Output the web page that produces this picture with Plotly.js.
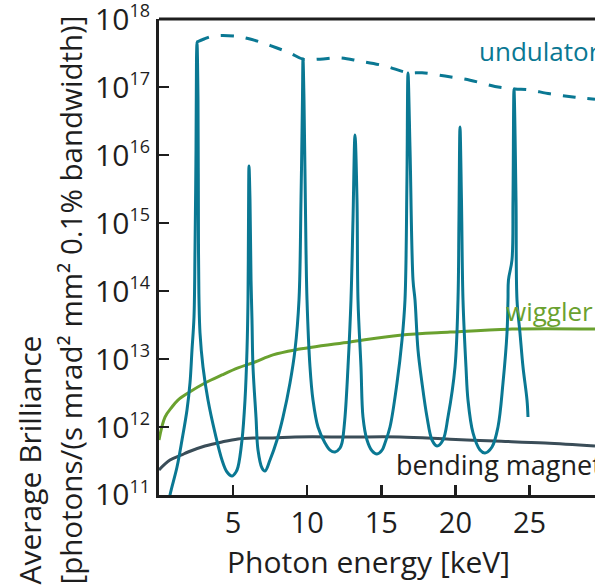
<!DOCTYPE html>
<html>
<head>
<meta charset="utf-8">
<script src="https://cdn.plot.ly/plotly-3.0.1.min.js"></script>
<style>html,body{margin:0;padding:0;background:#fff;}#chart{width:595px;height:588px;}</style>
</head>
<body>
<div id="chart"></div>
<script>
// Photon energy [keV] and average brilliance values
const undulatorX = [0.6,0.742,1.215,1.552,1.889,2.092,2.227,2.362,2.429,2.497,2.53,2.564,2.632,2.665,2.699,2.767,2.969,3.306,3.779,4.251,4.589,4.926,5.196,5.331,5.601,5.803,5.938,6.005,6.04,6.073,6.14,6.21,6.275,6.343,6.545,6.68,6.95,7.152,7.49,7.962,8.367,8.839,9.177,9.447,9.582,9.68,9.717,9.784,9.92,9.987,10.189,10.391,10.729,11.201,11.54,11.876,12.21,12.348,12.551,12.753,12.955,13.09,13.225,13.36,13.428,13.63,13.765,14.035,14.37,14.71,15.05,15.25,15.587,16.059,16.397,16.599,16.73,16.802,16.94,17.14,17.274,17.476,17.746,18.084,18.421,18.758,19.163,19.5,19.973,20.175,20.24,20.31,20.41,20.513,20.715,20.85,21.188,21.66,21.997,22.47,22.874,23.212,23.482,23.549,23.58,23.819,23.887,23.954,24.09,24.157,24.359,24.562,24.832,24.899];
const undulatorY = [6.3e10,1.0e11,2.58e11,6.44e11,1.78e12,4.44e12,1.36e13,4.15e13,4.01e14,1.19e16,2.51e17,4.59e17,6.44e16,3.98e14,7.38e13,2.41e13,7.62e12,2.49e12,8.17e11,3.27e11,2.18e11,1.90e11,2.18e11,2.58e11,6.44e11,2.49e12,1.36e13,7.38e13,1.10e15,6.89e15,2.19e15,1.45e14,3.75e13,7.62e12,1.40e12,4.59e11,2.49e11,2.25e11,3.27e11,6.44e11,1.40e12,4.44e12,1.36e13,7.38e13,2.19e15,6.46e16,2.58e17,6.46e16,3.98e14,7.38e13,7.62e12,2.49e12,1.0e12,5.82e11,4.57e11,4.29e11,4.9e11,5.82e11,1.40e12,7.62e12,7.38e13,1.10e15,1.97e16,2.19e15,7.38e13,7.62e12,1.40e12,6.44e11,4.47e11,4.01e11,4.57e11,5.82e11,1.0e12,4.44e12,1.90e13,7.38e13,4.27e15,1.61e17,1.17e16,1.45e14,7.38e13,1.36e13,4.44e12,1.40e12,6.44e11,5.26e11,6.44e11,1.40e12,7.62e12,7.38e13,1.10e15,2.58e16,2.19e15,7.38e13,7.62e12,2.49e12,8.17e11,4.59e11,4.15e11,5.08e11,1.0e12,4.44e12,2.41e13,7.38e13,1.45e14,2.86e14,2.19e15,9.35e16,2.19e15,7.38e13,2.41e13,7.62e12,2.49e12,1.40e12];

const envelopeX = [2.56,3.04,3.64,5.13,6.14,7.02,7.96,8.84,9.72,10.86,12.21,13.56,15.25,16.80,17.75,19.30,20.99,22.67,24.02,24.90,26.38,28.07,29.42];
const envelopeY = [4.59e17,5.08e17,5.62e17,5.62e17,5.08e17,4.44e17,3.75e17,3.16e17,2.57e17,2.57e17,2.69e17,2.40e17,2.04e17,1.62e17,1.62e17,1.45e17,1.26e17,1.02e17,9.33e16,9.12e16,7.94e16,7.08e16,6.61e16];

const wigglerX = [0,0.405,0.877,1.28,1.96,3.10,4.25,5.33,6.48,7.69,9.18,12.89,16.26,19.64,23.82,29.42];
const wigglerY = [6.46e11,1.40e12,1.97e12,2.49e12,3.16e12,4.44e12,5.82e12,7.38e12,9.04e12,1.15e13,1.36e13,1.78e13,2.24e13,2.49e13,2.75e13,2.75e13];

const bendingX = [0,0.74,1.53,1.96,3.10,4.25,5.33,6.48,7.69,9.18,12.89,16.26,19.64,22.67,26.05,29.42];
const bendingY = [2.34e11,3.27e11,3.89e11,4.29e11,5.25e11,6.03e11,6.67e11,6.89e11,6.9e11,7.13e11,7.13e11,7.13e11,6.61e11,6.22e11,5.82e11,5.25e11];

const xTickVals = [5,10,15,20,25];
const yTickVals = [1e11,1e12,1e13,1e14,1e15,1e16,1e17,1e18];
const yTickExp = ['11','12','13','14','15','16','17','18'];

const seriesLabels = ['undulator','wiggler','bending magnet'];
const xTitle = 'Photon energy [keV]';
const yTitle1 = 'Average Brilliance';
const yTitle2 = '[photons/(s mrad² mm² 0.1% bandwidth)]';

const TEAL = '#0a7893', GREEN = '#6aa12f', SLATE = '#3a4d58', INK = '#1e1e1e';
const FONT = 'Open Sans, sans-serif';

// plot area in pixels
const L = 159, T = 19, B = 495, R = 595;
const px = p => (p - L) / (R - L);
const py = p => (B - p) / (B - T);

const traces = [
  {x: bendingX, y: bendingY, mode: 'lines', line: {color: SLATE, width: 3, shape: 'spline', smoothing: 1}, hoverinfo: 'skip'},
  {x: wigglerX, y: wigglerY, mode: 'lines', line: {color: GREEN, width: 3, shape: 'spline', smoothing: 1}, hoverinfo: 'skip'},
  {x: undulatorX, y: undulatorY, mode: 'lines', line: {color: TEAL, width: 3, shape: 'spline', smoothing: 1}, hoverinfo: 'skip'},
  {x: envelopeX, y: envelopeY, mode: 'lines', line: {color: TEAL, width: 3, dash: '13px,12px', shape: 'spline', smoothing: 1}, hoverinfo: 'skip'}
];

const layout = {
  width: 595, height: 588,
  margin: {l: L, r: 0, t: T, b: 588 - B, pad: 0},
  paper_bgcolor: '#fff', plot_bgcolor: '#fff',
  showlegend: false,
  font: {family: FONT, color: INK, size: 29},
  xaxis: {
    range: [0, 29.42], showgrid: false, zeroline: false,
    showline: true, linecolor: INK, linewidth: 3,
    ticks: 'inside', ticklen: 10, tickwidth: 2.5, tickcolor: INK,
    tickvals: xTickVals, ticktext: xTickVals.map(String),
    tickfont: {family: FONT, size: 29, color: INK}
  },
  yaxis: {
    type: 'log', range: [10.9999, 18.0001], showgrid: false, zeroline: false,
    showline: true, linecolor: INK, linewidth: 3,
    ticks: 'inside', ticklen: 10, tickwidth: 2.5, tickcolor: INK,
    ticklabeloverflow: 'allow',
    tickvals: yTickVals,
    ticktext: yTickExp.map(e => '10<sup><span style="font-size:18px">' + e + '</span></sup>'),
    tickfont: {family: FONT, size: 30, color: INK}
  },
  shapes: [
    {type: 'line', xref: 'paper', yref: 'paper', x0: 0, x1: 1, y0: 1, y1: 1, line: {color: INK, width: 3}}
  ],
  annotations: [
    {xref: 'paper', yref: 'paper', x: px(477), y: py(51), xanchor: 'left', yanchor: 'middle', showarrow: false,
     text: seriesLabels[0], font: {family: FONT, size: 26, color: TEAL}},
    {xref: 'paper', yref: 'paper', x: px(504), y: py(311), xanchor: 'left', yanchor: 'middle', showarrow: false,
     text: seriesLabels[1], font: {family: FONT, size: 26, color: GREEN}},
    {xref: 'paper', yref: 'paper', x: px(394), y: py(464), xanchor: 'left', yanchor: 'middle', showarrow: false,
     text: seriesLabels[2], font: {family: FONT, size: 27, color: INK}},
    {xref: 'paper', yref: 'paper', x: px(368), y: py(561), xanchor: 'center', yanchor: 'middle', showarrow: false,
     text: xTitle, font: {family: FONT, size: 30, color: INK}},
    {xref: 'paper', yref: 'paper', x: px(29), y: py(587), xanchor: 'center', yanchor: 'bottom', showarrow: false, textangle: -90,
     text: yTitle1, font: {family: FONT, size: 30, color: INK}},
    {xref: 'paper', yref: 'paper', x: px(70), y: py(587), xanchor: 'center', yanchor: 'bottom', showarrow: false, textangle: -90,
     text: yTitle2, font: {family: FONT, size: 29.5, color: INK}}
  ]
};

Plotly.newPlot('chart', traces, layout, {staticPlot: true, displayModeBar: false});
</script>
</body>
</html>
